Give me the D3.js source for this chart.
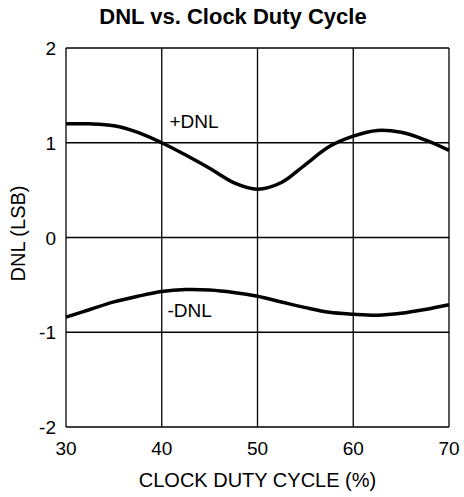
<!DOCTYPE html>
<html>
<head>
<meta charset="utf-8">
<script src="https://cdn.jsdelivr.net/npm/d3@7"></script>
<style>
  body { margin: 0; background: #fff; }
  text { font-family: "Liberation Sans", Arial, sans-serif; fill: #000; }
</style>
</head>
<body>
<div id="chart"></div>
<script>
const dutyCycle = [30, 32.5, 35, 37.5, 40, 42.5, 45, 47.5, 50, 52.5, 55, 57.5, 60, 62.5, 65, 67.5, 70]
const dnlPlus = [1.20, 1.20, 1.18, 1.11, 1.00, 0.87, 0.73, 0.58, 0.51, 0.58, 0.77, 0.96, 1.07, 1.13, 1.11, 1.03, 0.92]
const dnlMinus = [-0.84, -0.76, -0.68, -0.62, -0.57, -0.55, -0.555, -0.58, -0.62, -0.68, -0.74, -0.79, -0.81, -0.82, -0.80, -0.76, -0.71]
const xTicks = [30, 40, 50, 60, 70]
const yTicks = [-2, -1, 0, 1, 2]

const margin = {top: 48, right: 15, bottom: 70, left: 66}
const width = 464 - margin.left - margin.right
const height = 497 - margin.top - margin.bottom

const svg = d3.select('#chart')
  .append('svg')
  .attr('width', 464)
  .attr('height', 497)

svg.append('text')
  .attr('x', 233)
  .attr('y', 24)
  .attr('text-anchor', 'middle')
  .attr('font-size', 22)
  .attr('font-weight', 'bold')
  .text('DNL vs. Clock Duty Cycle')

const g = svg.append('g')
  .attr('transform', 'translate(' + margin.left + ',' + margin.top + ')')

const x = d3.scaleLinear().domain([30, 70]).range([0, width])
const y = d3.scaleLinear().domain([-2, 2]).range([height, 0])

// grid
g.selectAll('.vgrid').data(xTicks).enter().append('line')
  .attr('x1', d => x(d)).attr('x2', d => x(d))
  .attr('y1', 0).attr('y2', height)
  .attr('stroke', '#000').attr('stroke-width', 1.3)
g.selectAll('.hgrid').data(yTicks).enter().append('line')
  .attr('x1', 0).attr('x2', width)
  .attr('y1', d => y(d)).attr('y2', d => y(d))
  .attr('stroke', '#000').attr('stroke-width', 1.3)

// tick labels
g.selectAll('.xl').data(xTicks).enter().append('text')
  .attr('x', d => x(d)).attr('y', height + 28)
  .attr('text-anchor', 'middle').attr('font-size', 19)
  .text(d => d)
g.selectAll('.yl').data(yTicks).enter().append('text')
  .attr('x', -10).attr('y', d => y(d) + 7)
  .attr('text-anchor', 'end').attr('font-size', 19)
  .text(d => d)

// axis titles
svg.append('text')
  .attr('x', margin.left + width / 2)
  .attr('y', 487)
  .attr('text-anchor', 'middle')
  .attr('font-size', 20)
  .text('CLOCK DUTY CYCLE (%)')
svg.append('text')
  .attr('transform', 'translate(25,' + (margin.top + height / 2 - 4) + ') rotate(-90)')
  .attr('text-anchor', 'middle')
  .attr('font-size', 20)
  .text('DNL (LSB)')

const line = d3.line()
  .x(d => x(d[0]))
  .y(d => y(d[1]))
  .curve(d3.curveCatmullRom)

g.append('path')
  .datum(dutyCycle.map((d, i) => [d, dnlPlus[i]]))
  .attr('fill', 'none').attr('stroke', '#000').attr('stroke-width', 3.5)
  .attr('d', line)
g.append('path')
  .datum(dutyCycle.map((d, i) => [d, dnlMinus[i]]))
  .attr('fill', 'none').attr('stroke', '#000').attr('stroke-width', 3.5)
  .attr('d', line)

g.append('text')
  .attr('x', x(40.8)).attr('y', y(1.155))
  .attr('font-size', 19).text('+DNL')
g.append('text')
  .attr('x', x(40.6)).attr('y', y(-0.84))
  .attr('font-size', 19).text('-DNL')
</script>
</body>
</html>
